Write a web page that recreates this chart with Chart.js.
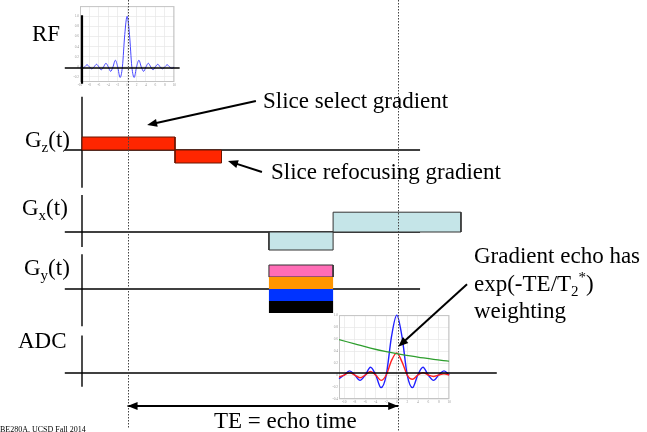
<!DOCTYPE html>
<html>
<head>
<meta charset="utf-8">
<script src="https://cdn.jsdelivr.net/npm/chart.js@4.4.0/dist/chart.umd.min.js"></script>
<style>
  html, body { margin: 0; padding: 0; background: #fff; }
  #wrap { position: relative; width: 647px; height: 432px; overflow: hidden; }
  canvas { position: absolute; }
  #main { left: 0; top: 0; z-index: 2; }
  #rfInset { left: 73px; top: 3px; z-index: 1; }
  #adcInset { left: 332px; top: 312px; z-index: 1; }
</style>
</head>
<body>
<div id="wrap">
  <canvas id="rfInset" width="104" height="84"></canvas>
  <canvas id="adcInset" width="120" height="92"></canvas>
  <canvas id="main" width="647" height="432"></canvas>
</div>
<script>
// ───────────────────────────────────────
//  DATA  (time in ms, amplitudes in relative units)
// ───────────────────────────────────────

const rfCentre = 0.98;
const echoTime = 6.8;

// slice select lobe, then refocusing lobe
const gzEdges = [0, 2.0, 3.0];
const gzAmps  = [1, -1];

// readout prephaser, then readout lobe
const gxEdges = [4.02, 5.4, 8.15];
const gxAmps  = [-1, 1.1];

// phase encode table: one band between each pair of levels
const gyEdges   = [4.02, 5.4];
const gyLevels  = [2, 1, 0, -1, -2];
const gyColours = ['#ff6db6', '#ff9600', '#0033ff', '#000000'];

// per row: baseline end time, axis top / bottom
const rowNames    = ['RF', 'Gz', 'Gx', 'Gy', 'ADC'];
const lineStart   = -0.37;
const lineEnds    = [2.1, 7.27, 7.27, 7.27, 8.92];
const axisTops    = [1.0, 4.1, 2.05, 2.9, 0.6];
const axisBottoms = [-0.3, -2.9, -0.83, -3.1, -0.22];

// RF pulse inset (sinc)
const rfSincX = [-10, -9.5, -9, -8.5, -8, -7.5, -7, -6.5, -6, -5.5, -5, -4.5, -4, -3.5, -3, -2.5, -2, -1.5, -1, -0.5,
                 0, 0.5, 1, 1.5, 2, 2.5, 3, 3.5, 4, 4.5, 5, 5.5, 6, 6.5, 7, 7.5, 8, 8.5, 9, 9.5, 10];
const rfSincY = [0, -0.03, 0, 0.04, 0, -0.04, 0, 0.05, 0, -0.06, 0, 0.07, 0, -0.09, 0, 0.13, 0, -0.21, 0, 0.64,
                 1.0, 0.64, 0, -0.21, 0, 0.13, 0, -0.09, 0, 0.07, 0, -0.06, 0, 0.05, 0, -0.04, 0, 0.04, 0, -0.03, 0];
const rfTickX = [-10, -8, -6, -4, -2, 0, 2, 4, 6, 8, 10];
const rfTickY = [-0.2, 0, 0.2, 0.4, 0.6, 0.8, 1];

// ADC inset: echo, T2* weighted echo, decay envelope
const adcX    = [-11, -10, -9, -8, -7, -6, -5, -4, -3, -2, -1, 0, 1, 2, 3, 4, 5, 6, 7, 8, 9, 10];
const adcBlue = [-0.06, 0, 0.07, 0, -0.09, 0, 0.13, 0, -0.21, 0, 0.64, 1.0, 0.64, 0, -0.21, 0, 0.13, 0, -0.09, 0, 0.07, 0];
const adcRed  = [-0.035, 0, 0.04, 0, -0.045, 0, 0.06, 0, -0.09, 0, 0.24, 0.37, 0.22, 0, -0.07, 0, 0.04, 0, -0.025, 0, 0.02, 0];
const adcGreenX = [-11, -8, -5, -2, 1, 4, 7, 10];
const adcGreen  = [0.59, 0.52, 0.45, 0.39, 0.34, 0.30, 0.26, 0.23];
const adcTickX = [-10, -8, -6, -4, -2, 0, 2, 4, 6, 8, 10];
const adcTickY = [-0.4, -0.2, 0, 0.2, 0.4, 0.6, 0.8, 1];

// ───────────────────────────────────────
//  LAYOUT
// ───────────────────────────────────────

Chart.defaults.font.family = '"Liberation Serif", "Times New Roman", serif';

const W = 647, H = 432;
const AXIS_PX = 82, PX_PER_MS = 46.5;
const SERIF = '"Liberation Serif", "Times New Roman", serif';

// row bands in pixels, baseline pixel, pixels per amplitude unit
const rows = {
  RF:  { top: 0,   bottom: 92,  base: 68,  k: 52.7 },
  Gz:  { top: 92,  bottom: 194, base: 150, k: 13 },
  Gx:  { top: 194, bottom: 252, base: 232, k: 18 },
  Gy:  { top: 252, bottom: 330, base: 289, k: 12 },
  ADC: { top: 330, bottom: 400, base: 373, k: 62.5 },
  TE:  { top: 400, bottom: 432, base: 406, k: 1 }
};

const scales = {
  x: { type: 'linear', display: false, min: -AXIS_PX / PX_PER_MS, max: (W - AXIS_PX) / PX_PER_MS }
};
Object.entries(rows).forEach(([name, r]) => {
  scales[name] = {
    type: 'linear', display: false, position: 'right',
    stack: 'rows', stackWeight: r.bottom - r.top,
    min: -(r.bottom - r.base) / r.k,
    max: (r.base - r.top) / r.k
  };
});

// ───────────────────────────────────────
//  DATASETS
// ───────────────────────────────────────

const datasets = [];
function add(ds) {
  ds.order = -datasets.length;   // later datasets on top
  datasets.push(Object.assign({ pointRadius: 0, tension: 0, fill: false, borderColor: '#000', borderWidth: 1.5 }, ds));
}
function rect(t0, t1, y0, y1) {
  return [{ x: t0, y: y0 }, { x: t0, y: y1 }, { x: t1, y: y1 }, { x: t1, y: y0 }, { x: t0, y: y0 }];
}

rowNames.forEach((name, i) => {
  add({ yAxisID: name, data: [{ x: lineStart, y: 0 }, { x: lineEnds[i], y: 0 }], borderWidth: 1.6 });
  add({ yAxisID: name, data: [{ x: 0, y: axisTops[i] }, { x: 0, y: axisBottoms[i] }], borderWidth: i === 0 ? 2.2 : 1.4 });
});

gzAmps.forEach((a, i) => add({
  yAxisID: 'Gz', data: rect(gzEdges[i], gzEdges[i + 1], 0, a),
  fill: 'shape', backgroundColor: '#ff2600', borderColor: '#6b1500', borderWidth: 1
}));

gxAmps.forEach((a, i) => add({
  yAxisID: 'Gx', data: rect(gxEdges[i], gxEdges[i + 1], 0, a),
  fill: 'shape', backgroundColor: '#c5e5e8', borderColor: '#333', borderWidth: 1
}));

gyColours.forEach((c, i) => add({
  yAxisID: 'Gy', data: rect(gyEdges[0], gyEdges[1], gyLevels[i + 1], gyLevels[i]),
  fill: 'shape', backgroundColor: c, borderColor: i === 0 ? '#333' : c, borderWidth: i === 0 ? 1 : 0
}));

add({ yAxisID: 'TE', data: [{ x: rfCentre, y: 0 }, { x: echoTime, y: 0 }], borderWidth: 2 });

// ───────────────────────────────────────
//  ANNOTATIONS
// ───────────────────────────────────────

const arrows = [
  { row: 'Gz',  from: [3.74, 3.77],  to: [1.40, 1.92] },      // slice select
  { row: 'Gz',  from: [3.87, -1.69], to: [3.14, -0.85] },     // slice refocusing
  { row: 'ADC', from: [8.28, 1.42],  to: [echoTime, 0.42] }   // echo peak
];

const notes = [
  { x: 32,  y: 41,  parts: [['RF']] },
  { x: 25,  y: 147, parts: [['G'], ['z', 'sub'], ['(t)']] },
  { x: 22,  y: 215, parts: [['G'], ['x', 'sub'], ['(t)']] },
  { x: 24,  y: 275, parts: [['G'], ['y', 'sub'], ['(t)']] },
  { x: 18,  y: 348, parts: [['ADC']] },
  { x: 263, y: 108, parts: [['Slice select gradient']] },
  { x: 271, y: 179, parts: [['Slice refocusing gradient']] },
  { x: 474, y: 263, parts: [['Gradient echo has']] },
  { x: 474, y: 291, parts: [['exp(-TE/T'], ['2', 'sub'], ['*', 'sup'], [')']] },
  { x: 474, y: 318, parts: [['weighting']] },
  { x: 214, y: 428, parts: [['TE = echo time']] },
  { x: 0,   y: 432, size: 8, parts: [['BE280A, UCSD Fall 2014']] }
];

function arrowHead(ctx, x0, y0, x1, y1) {
  const a = Math.atan2(y1 - y0, x1 - x0), len = 10, half = 4;
  const bx = x1 - len * Math.cos(a), by = y1 - len * Math.sin(a);
  ctx.beginPath();
  ctx.moveTo(x1, y1);
  ctx.lineTo(bx + half * Math.sin(a), by - half * Math.cos(a));
  ctx.lineTo(bx - half * Math.sin(a), by + half * Math.cos(a));
  ctx.closePath();
  ctx.fill();
}

function drawRich(ctx, parts, x, y, size) {
  let cx = x;
  parts.forEach(([txt, kind]) => {
    const s = kind ? Math.round(size * 0.65) : size;
    const dy = kind === 'sub' ? size * 0.22 : kind === 'sup' ? -size * 0.38 : 0;
    ctx.font = s + 'px ' + SERIF;
    ctx.fillText(txt, cx, y + dy);
    cx += ctx.measureText(txt).width;
  });
}

const overlay = {
  id: 'overlay',
  afterDatasetsDraw(chart) {
    const ctx = chart.ctx, xs = chart.scales.x, area = chart.chartArea;
    ctx.save();

    // dotted time markers
    ctx.strokeStyle = '#444';
    ctx.lineWidth = 1;
    ctx.setLineDash([1.5, 1.5]);
    [[rfCentre, area.bottom - 4], [echoTime, area.bottom]].forEach(([t, yb]) => {
      const px = Math.round(xs.getPixelForValue(t)) + 0.5;
      ctx.beginPath();
      ctx.moveTo(px, area.top);
      ctx.lineTo(px, yb);
      ctx.stroke();
    });
    ctx.setLineDash([]);

    // arrows
    ctx.strokeStyle = '#000';
    ctx.fillStyle = '#000';
    ctx.lineWidth = 2;
    arrows.forEach(a => {
      const ys = chart.scales[a.row];
      const x0 = xs.getPixelForValue(a.from[0]), y0 = ys.getPixelForValue(a.from[1]);
      const x1 = xs.getPixelForValue(a.to[0]),   y1 = ys.getPixelForValue(a.to[1]);
      const d = Math.hypot(x1 - x0, y1 - y0);
      ctx.beginPath();
      ctx.moveTo(x0, y0);
      ctx.lineTo(x1 - (x1 - x0) * 6 / d, y1 - (y1 - y0) * 6 / d);
      ctx.stroke();
      arrowHead(ctx, x0, y0, x1, y1);
    });
    const teY = chart.scales.TE.getPixelForValue(0);
    const teA = xs.getPixelForValue(rfCentre), teB = xs.getPixelForValue(echoTime);
    arrowHead(ctx, teB, teY, teA, teY);
    arrowHead(ctx, teA, teY, teB, teY);

    // text
    ctx.fillStyle = '#000';
    ctx.textBaseline = 'alphabetic';
    ctx.textAlign = 'left';
    notes.forEach(n => drawRich(ctx, n.parts, n.x, n.y, n.size || 23));

    ctx.restore();
  }
};

new Chart(document.getElementById('main'), {
  type: 'line',
  data: { datasets },
  options: {
    responsive: false,
    animation: false,
    devicePixelRatio: 1,
    events: [],
    layout: { padding: 0 },
    plugins: { legend: { display: false }, tooltip: { enabled: false } },
    scales
  },
  plugins: [overlay]
});

// ───────────────────────────────────────
//  INSETS
// ───────────────────────────────────────

const frame = {
  id: 'frame',
  beforeDatasetsDraw(chart) {
    const { ctx, chartArea: a } = chart;
    ctx.save();
    ctx.strokeStyle = '#c4c4c4';
    ctx.lineWidth = 1;
    ctx.strokeRect(a.left + 0.5, a.top + 0.5, a.right - a.left - 1, a.bottom - a.top - 1);
    ctx.restore();
  }
};

function insetScales(xMin, xMax, xTicks, yMin, yMax, yTicks) {
  const common = {
    type: 'linear',
    grid: { color: '#e6e6e6', lineWidth: 0.7, drawTicks: false },
    border: { display: false },
    ticks: { font: { size: 3.5 }, color: '#9a9a9a', padding: 1, maxRotation: 0, autoSkip: false }
  };
  return {
    x: Object.assign({}, common, {
      min: xMin, max: xMax,
      afterBuildTicks: s => { s.ticks = xTicks.map(v => ({ value: v })); },
      afterFit: s => { s.height = 5; }
    }),
    y: Object.assign({}, common, {
      min: yMin, max: yMax,
      afterBuildTicks: s => { s.ticks = yTicks.map(v => ({ value: v })); },
      afterFit: s => { s.width = 7; }
    })
  };
}

function insetOptions(sc) {
  return {
    responsive: false, animation: false, devicePixelRatio: 1, events: [],
    layout: { padding: 0 },
    plugins: { legend: { display: false }, tooltip: { enabled: false } },
    elements: { point: { radius: 0 } },
    scales: sc
  };
}

new Chart(document.getElementById('rfInset'), {
  type: 'line',
  data: {
    datasets: [{
      data: rfSincX.map((x, i) => ({ x, y: rfSincY[i] })),
      borderColor: '#4747ff', borderWidth: 1, cubicInterpolationMode: 'monotone'
    }]
  },
  options: insetOptions(insetScales(-10, 10, rfTickX, -0.3, 1.2, rfTickY)),
  plugins: [frame]
});

new Chart(document.getElementById('adcInset'), {
  type: 'line',
  data: {
    datasets: [
      { data: adcGreenX.map((x, i) => ({ x, y: adcGreen[i] })), borderColor: '#2e9e2e', borderWidth: 1.2, tension: 0.4 },
      { data: adcX.map((x, i) => ({ x, y: adcRed[i] })), borderColor: '#ff2222', borderWidth: 1.4, cubicInterpolationMode: 'monotone' },
      { data: adcX.map((x, i) => ({ x, y: adcBlue[i] })), borderColor: '#2020ff', borderWidth: 1.4, cubicInterpolationMode: 'monotone', clip: 3 }
    ]
  },
  options: insetOptions(insetScales(-11, 10, adcTickX, -0.4, 1.0, adcTickY)),
  plugins: [frame]
});
</script>
</body>
</html>
